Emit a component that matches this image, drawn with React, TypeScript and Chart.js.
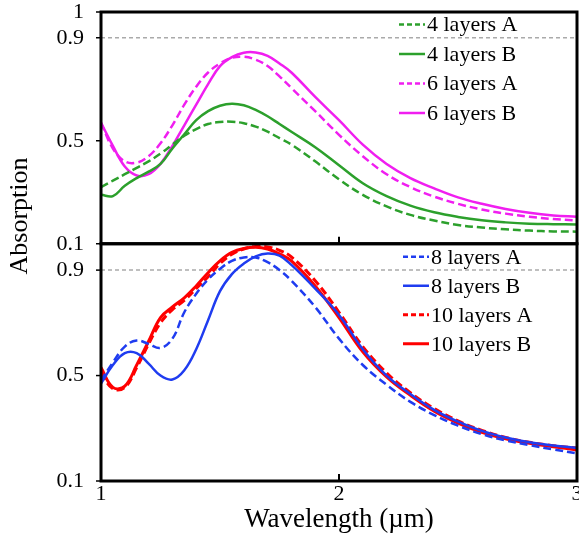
import { useEffect, useRef } from 'react';
import { Chart, registerables } from 'chart.js';

Chart.register(...registerables);

const FONT = '"Liberation Serif", "Times New Roman", Times, serif';

// Shared wavelength grid (µm)
const WAVELENGTH = [
  1.0, 1.05, 1.1, 1.15, 1.2, 1.25, 1.3, 1.35, 1.4, 1.45, 1.5, 1.55, 1.6, 1.65, 1.7, 1.75, 1.8, 1.9, 2.0,
  2.1, 2.2, 2.3, 2.4, 2.5, 2.6, 2.7, 2.8, 2.9, 3.0,
];

// Upper panel: 4 and 6 layers
const LAYERS4_A = [
  0.32, 0.345, 0.37, 0.395, 0.42, 0.45, 0.485, 0.52, 0.545, 0.565, 0.573, 0.574, 0.568, 0.555, 0.535, 0.51,
  0.485, 0.42, 0.35, 0.29, 0.245, 0.212, 0.19, 0.173, 0.163, 0.156, 0.151, 0.148, 0.147,
];
const LAYERS4_B = [
  0.29, 0.285, 0.325, 0.355, 0.38, 0.41, 0.47, 0.525, 0.58, 0.615, 0.636, 0.644, 0.638, 0.62, 0.595, 0.565,
  0.535, 0.475, 0.405, 0.335, 0.285, 0.248, 0.222, 0.204, 0.191, 0.183, 0.178, 0.176, 0.175,
];
const LAYERS6_A = [
  0.57, 0.47, 0.42, 0.415, 0.44, 0.49, 0.56, 0.64, 0.71, 0.765, 0.8, 0.822, 0.826, 0.815, 0.79, 0.75, 0.705,
  0.615, 0.523, 0.44, 0.37, 0.32, 0.283, 0.255, 0.233, 0.217, 0.205, 0.196, 0.19,
];
const LAYERS6_B = [
  0.57, 0.48, 0.4, 0.365, 0.37, 0.41, 0.48, 0.56, 0.64, 0.72, 0.79, 0.825, 0.842, 0.843, 0.83, 0.8, 0.765,
  0.67, 0.58, 0.485, 0.41, 0.355, 0.315, 0.28, 0.255, 0.235, 0.22, 0.21, 0.205,
];

// Lower panel: 8 and 10 layers
const LAYERS8_A = [
  0.48, 0.55, 0.61, 0.633, 0.62, 0.605, 0.64, 0.74, 0.81, 0.865, 0.905, 0.935, 0.948, 0.948, 0.93, 0.9, 0.86,
  0.76, 0.64, 0.54, 0.465, 0.4, 0.35, 0.31, 0.278, 0.254, 0.236, 0.22, 0.205,
];
const LAYERS8_B = [
  0.47, 0.54, 0.585, 0.585, 0.545, 0.5, 0.485, 0.52, 0.6, 0.71, 0.82, 0.885, 0.925, 0.952, 0.963, 0.955, 0.92,
  0.83, 0.73, 0.6, 0.5, 0.43, 0.37, 0.325, 0.29, 0.265, 0.247, 0.235, 0.225,
];
const LAYERS10_A = [
  0.51, 0.45, 0.455, 0.53, 0.62, 0.7, 0.75, 0.785, 0.83, 0.875, 0.925, 0.96, 0.98, 0.99, 0.988, 0.975, 0.95,
  0.86, 0.74, 0.61, 0.51, 0.435, 0.375, 0.328, 0.292, 0.265, 0.247, 0.234, 0.225,
];
const LAYERS10_B = [
  0.53, 0.455, 0.46, 0.54, 0.63, 0.72, 0.76, 0.795, 0.84, 0.89, 0.935, 0.967, 0.982, 0.987, 0.98, 0.962, 0.935,
  0.84, 0.72, 0.59, 0.495, 0.425, 0.365, 0.32, 0.285, 0.26, 0.243, 0.23, 0.218,
];

const X_TICKS = [1, 2, 3];
const Y_TICKS_TOP = [0.1, 0.5, 0.9, 1];
const Y_TICKS_BOTTOM = [0.1, 0.5, 0.9];
const GUIDE_LEVEL = 0.9;

const GREEN = '#2ca02c';
const MAGENTA = '#f01ef0';
const BLUE = '#1f3cf0';
const RED = '#ff0000';

type Series = { label: string; values: number[]; color: string; dashed: boolean; axis: string; width: number };

const SERIES: Series[] = [
  { label: '4 layers A', values: LAYERS4_A, color: GREEN, dashed: true, axis: 'yTop', width: 2.5 },
  { label: '4 layers B', values: LAYERS4_B, color: GREEN, dashed: false, axis: 'yTop', width: 2.5 },
  { label: '6 layers A', values: LAYERS6_A, color: MAGENTA, dashed: true, axis: 'yTop', width: 2.5 },
  { label: '6 layers B', values: LAYERS6_B, color: MAGENTA, dashed: false, axis: 'yTop', width: 2.5 },
  { label: '8 layers A', values: LAYERS8_A, color: BLUE, dashed: true, axis: 'yBottom', width: 2.5 },
  { label: '8 layers B', values: LAYERS8_B, color: BLUE, dashed: false, axis: 'yBottom', width: 2.5 },
  { label: '10 layers A', values: LAYERS10_A, color: RED, dashed: true, axis: 'yBottom', width: 3 },
  { label: '10 layers B', values: LAYERS10_B, color: RED, dashed: false, axis: 'yBottom', width: 3 },
];

const PANELS = [
  { axis: 'yTop', ticks: Y_TICKS_TOP, legendLeft: 178, legendTop: 12.5, rowGap: 29.5 },
  { axis: 'yBottom', ticks: Y_TICKS_BOTTOM, legendLeft: 174, legendTop: 13, rowGap: 29 },
];

// Grey dashed reference line at the 0.9 level, behind the curves
const guidePlugin = {
  id: 'guideLine',
  beforeDatasetsDraw(chart: any) {
    const { ctx, chartArea } = chart;
    ctx.save();
    ctx.strokeStyle = '#aaaaaa';
    ctx.lineWidth = 1.5;
    ctx.setLineDash([4, 3]);
    for (const p of PANELS) {
      const y = chart.scales[p.axis].getPixelForValue(GUIDE_LEVEL);
      ctx.beginPath();
      ctx.moveTo(chartArea.left, y);
      ctx.lineTo(chartArea.right, y);
      ctx.stroke();
    }
    ctx.restore();
  },
};

// Thick panel frames, tick marks, per-panel legends and the shared y title
const framePlugin = {
  id: 'panelFrames',
  afterDatasetsDraw(chart: any) {
    const { ctx, chartArea } = chart;
    const xs = chart.scales.x;
    ctx.save();
    ctx.strokeStyle = '#000';
    for (const p of PANELS) {
      const s = chart.scales[p.axis];
      ctx.lineWidth = 3;
      ctx.setLineDash([]);
      ctx.strokeRect(chartArea.left, s.top, chartArea.right - chartArea.left, s.bottom - s.top);
      ctx.lineWidth = 2;
      for (const v of X_TICKS.slice(1, -1)) {
        const px = xs.getPixelForValue(v);
        ctx.beginPath();
        ctx.moveTo(px, s.bottom);
        ctx.lineTo(px, s.bottom - 7);
        ctx.stroke();
      }
      ctx.lineWidth = 1.5;
      for (const v of p.ticks) {
        const py = s.getPixelForValue(v);
        ctx.beginPath();
        ctx.moveTo(chartArea.left - 5, py);
        ctx.lineTo(chartArea.left, py);
        ctx.stroke();
      }
    }
    ctx.restore();
  },
  afterDraw(chart: any) {
    const { ctx, chartArea } = chart;
    ctx.save();
    ctx.font = `22px ${FONT}`;
    ctx.textBaseline = 'middle';
    ctx.textAlign = 'left';
    for (const p of PANELS) {
      const s = chart.scales[p.axis];
      const x0 = chartArea.right - p.legendLeft;
      const items = SERIES.filter((d) => d.axis === p.axis);
      items.forEach((d, i) => {
        const y = s.top + p.legendTop + i * p.rowGap;
        ctx.strokeStyle = d.color;
        ctx.lineWidth = d.width;
        ctx.setLineDash(d.dashed ? [5, 3] : []);
        ctx.beginPath();
        ctx.moveTo(x0, y);
        ctx.lineTo(x0 + 26, y);
        ctx.stroke();
        ctx.fillStyle = '#000';
        ctx.fillText(d.label, x0 + 28, y + 1);
      });
    }
    // Shared vertical axis title
    ctx.setLineDash([]);
    ctx.font = `26px ${FONT}`;
    ctx.textAlign = 'center';
    ctx.fillStyle = '#000';
    ctx.translate(20, 216);
    ctx.rotate(-Math.PI / 2);
    ctx.fillText('Absorption', 0, 0);
    ctx.restore();
  },
};

function yScale(ticks: number[], weight: number) {
  return {
    type: 'linear' as const,
    position: 'left' as const,
    stack: 'panels',
    stackWeight: weight,
    min: 0.1,
    max: 1,
    grid: { display: false, drawTicks: false },
    border: { display: false },
    afterBuildTicks(s: any) {
      s.ticks = ticks.map((v) => ({ value: v }));
    },
    afterFit(s: any) {
      s.width = 101;
      s.paddingTop = 0;
      s.paddingBottom = 0;
    },
    ticks: {
      font: { family: FONT, size: 22 },
      color: '#000',
      padding: 17,
      autoSkip: false,
      callback: (v: any) => (Number(v) === 1 ? '1' : Number(v).toFixed(1)),
    },
  };
}

export default function App() {
  const canvasRef = useRef<HTMLCanvasElement | null>(null);

  useEffect(() => {
    if (!canvasRef.current) return;
    const chart = new Chart(canvasRef.current, {
      type: 'line',
      data: {
        datasets: SERIES.map((d) => ({
          label: d.label,
          data: d.values.map((y, i) => ({ x: WAVELENGTH[i], y })),
          yAxisID: d.axis,
          borderColor: d.color,
          backgroundColor: d.color,
          borderWidth: d.width,
          borderDash: d.dashed ? [8, 4] : [],
          pointRadius: 0,
          tension: 0.4,
          fill: false,
        })),
      },
      options: {
        animation: false,
        responsive: false,
        maintainAspectRatio: false,
        layout: { padding: { top: 12, right: 2, bottom: 0, left: 0 } },
        plugins: { legend: { display: false }, tooltip: { enabled: false } },
        scales: {
          x: {
            type: 'linear',
            min: 1,
            max: 3,
            grid: { display: false, drawTicks: false },
            border: { display: false },
            afterBuildTicks(s: any) {
              s.ticks = X_TICKS.map((v) => ({ value: v }));
            },
            afterFit(s: any) {
              s.height = 56;
              s.paddingLeft = 0;
              s.paddingRight = 0;
            },
            ticks: {
              font: { family: FONT, size: 22 },
              color: '#000',
              padding: 0,
              maxRotation: 0,
              callback: (v: any) => String(v),
            },
            title: {
              display: true,
              text: 'Wavelength (µm)',
              font: { family: FONT, size: 27 },
              color: '#000',
              padding: { top: 0, bottom: 1 },
            },
          },
          // In a vertical stack the first scale sits lowest
          yBottom: yScale(Y_TICKS_BOTTOM, 237),
          yTop: yScale(Y_TICKS_TOP, 231.5),
        },
      },
      plugins: [guidePlugin, framePlugin],
    });
    return () => chart.destroy();
  }, []);

  return (
    <div style={{ position: 'absolute', left: 0, top: 0, width: 579, height: 537, background: '#fff' }}>
      <canvas ref={canvasRef} width={579} height={537} style={{ display: 'block' }} />
    </div>
  );
}
